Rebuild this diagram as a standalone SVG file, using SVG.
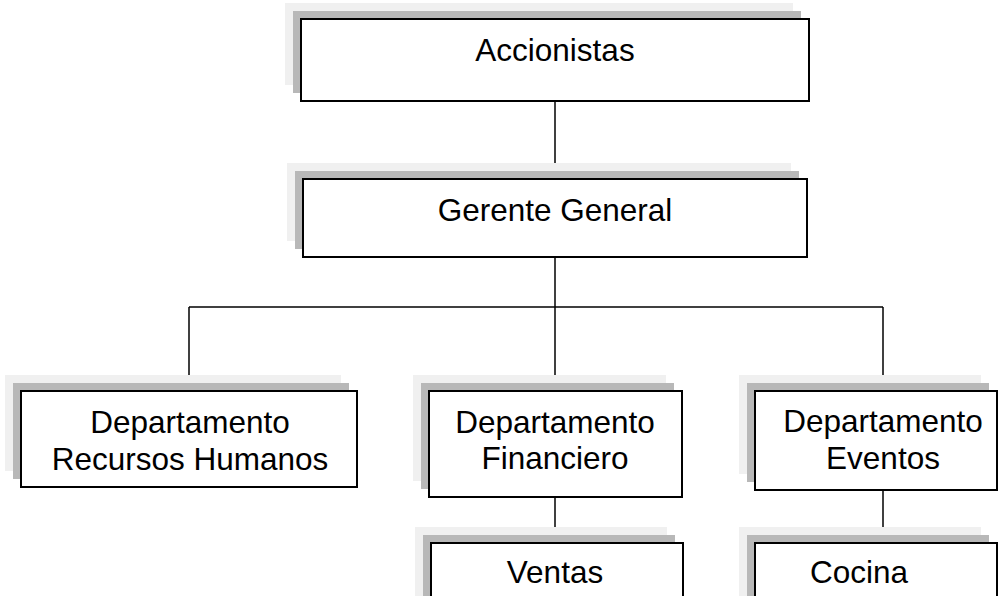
<svg xmlns="http://www.w3.org/2000/svg" width="998" height="596" viewBox="0 0 998 596">
<style>
.s1{fill:#f0f0f0}
.s2{fill:#b8b8b8}
.box{fill:#ffffff;stroke:#000000;stroke-width:2}
.ln{fill:none;stroke:#000000;stroke-width:1.5}
text{font-family:"Liberation Sans",Arial,sans-serif;font-size:31.5px;fill:#000000;text-anchor:middle}
</style>
<rect width="998" height="596" fill="#ffffff"/>
<g id="connectors">
<path class="ln" d="M555,101 V179"/>
<path class="ln" d="M555,257 V307"/>
<path class="ln" d="M189,307 H883"/>
<path class="ln" d="M189,307 V391"/>
<path class="ln" d="M555,307 V391"/>
<path class="ln" d="M883,307 V391"/>
<path class="ln" d="M555,497 V543"/>
<path class="ln" d="M883,490 V543"/>
</g>
<g id="accionistas">
<rect class="s1" x="285" y="3" width="508" height="82"/>
<rect class="s2" x="293" y="11" width="508" height="82"/>
<rect class="box" x="301" y="19" width="508" height="82"/>
<text x="555" y="61">Accionistas</text>
</g>
<g id="gerente">
<rect class="s1" x="287" y="163" width="504" height="78"/>
<rect class="s2" x="295" y="171" width="504" height="78"/>
<rect class="box" x="303" y="179" width="504" height="78"/>
<text x="555" y="221">Gerente General</text>
</g>
<g id="rrhh">
<rect class="s1" x="5" y="375" width="336" height="96"/>
<rect class="s2" x="13" y="383" width="336" height="96"/>
<rect class="box" x="21" y="391" width="336" height="96"/>
<text x="190" y="433">Departamento</text>
<text x="190" y="470">Recursos Humanos</text>
</g>
<g id="financiero">
<rect class="s1" x="413" y="375" width="253" height="106"/>
<rect class="s2" x="421" y="383" width="253" height="106"/>
<rect class="box" x="429" y="391" width="253" height="106"/>
<text x="555" y="433">Departamento</text>
<text x="555" y="469">Financiero</text>
</g>
<g id="eventos">
<rect class="s1" x="739" y="375" width="242" height="99"/>
<rect class="s2" x="747" y="383" width="242" height="99"/>
<rect class="box" x="755" y="391" width="242" height="99"/>
<text x="883" y="432">Departamento</text>
<text x="883" y="469">Eventos</text>
</g>
<g id="ventas">
<rect class="s1" x="415" y="527" width="252" height="80"/>
<rect class="s2" x="423" y="535" width="252" height="80"/>
<rect class="box" x="431" y="543" width="252" height="80"/>
<text x="555" y="583">Ventas</text>
</g>
<g id="cocina">
<rect class="s1" x="739" y="527" width="242" height="80"/>
<rect class="s2" x="747" y="535" width="242" height="80"/>
<rect class="box" x="755" y="543" width="242" height="80"/>
<text x="859" y="583">Cocina</text>
</g>
</svg>
